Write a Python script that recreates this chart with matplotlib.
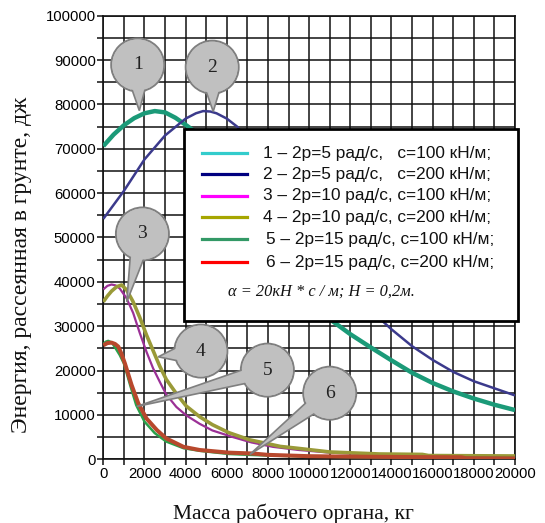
import math
import matplotlib
matplotlib.use("Agg")
import matplotlib.pyplot as plt
from matplotlib.patches import Circle, Polygon, Rectangle
from matplotlib.lines import Line2D
from matplotlib.transforms import IdentityTransform
from matplotlib.ticker import MultipleLocator, FuncFormatter

# ---------------- data (mass, kg ; energy, J) ----------------
x1 = [0, 500, 1000, 1500, 2000, 2500, 3000, 3500, 4000, 5000, 6000, 7000, 8000, 9000,
      10000, 11000, 12000, 13000, 14000, 15000, 16000, 17000, 18000, 19000, 20000]
y1 = [70600, 73200, 75300, 76900, 78000, 78500, 78200, 77000, 75400, 72000, 67500, 61000,
      53500, 45500, 37800, 31600, 28200, 25200, 22300, 19500, 17200, 15300, 13700, 12300, 11100]

x2 = [0, 1000, 2000, 3000, 4000, 4500, 4850, 5200, 5500, 6000, 6500, 7000, 8000, 9000, 10000,
      11000, 12000, 13000, 13600, 14000, 15000, 16000, 17000, 18000, 19000, 20000]
y2 = [54200, 60500, 67600, 73000, 76800, 78000, 78500, 78400, 78000, 76800, 75000, 72000,
      66500, 60000, 53000, 46000, 39500, 34000, 31000, 29300, 25500, 22400, 19700, 17600,
      16000, 14400]

x3 = [0, 200, 400, 600, 800, 1130, 1450, 1770, 2100, 2420, 2740, 3060, 3550, 4030, 4680,
      5300, 6300, 7200, 8250, 9500, 11000, 13000, 16000, 20000]
y3 = [38300, 39100, 39400, 39200, 38500, 36300, 33000, 28500, 24200, 20500, 17500, 14600,
      11800, 9900, 8000, 6500, 5000, 3800, 2800, 2100, 1500, 1100, 800, 600]

x4 = [0, 200, 400, 650, 890, 1130, 1450, 1770, 2100, 2420, 2740, 3060, 3550, 4030, 4680,
      5300, 6100, 7100, 8600, 9400, 11000, 13400, 15500, 15800, 20000]
y4 = [35500, 36800, 37900, 38900, 39300, 38200, 35500, 32000, 28000, 24500, 21000, 18000,
      14800, 12000, 9600, 7800, 6000, 4400, 2900, 2500, 1650, 1200, 1100, 850, 750]

x5 = [0, 120, 240, 420, 600, 800, 1000, 1300, 1600, 2000, 2500, 3060, 3900, 4700, 6100,
      7100, 8000, 10000, 12000, 15000, 20000]
y5 = [26000, 26500, 26700, 26300, 25000, 23500, 21600, 16800, 12200, 8500, 5900, 4000,
      2500, 1900, 1200, 1000, 850, 650, 500, 400, 300]

x6 = [0, 200, 400, 570, 730, 880, 1050, 1370, 1700, 2100, 2600, 3060, 3900, 4680, 6100,
      7280, 8000, 10000, 12000, 15000, 17400, 17600, 20000]
y6 = [25700, 26200, 26300, 26000, 25400, 23800, 21600, 16800, 12600, 9200, 6600, 4700,
      2800, 2100, 1500, 1300, 1000, 700, 600, 500, 450, 250, 200]

series_x = [x1, x2, x3, x4, x5, x6]
series_y = [y1, y2, y3, y4, y5, y6]
curve_colors = ['#1b9a78', '#3b3a8c', '#9b3096', '#9a9a38', '#2aa04a', '#b8482c']
curve_widths = [3.2, 1.8, 1.6, 2.6, 1.8, 2.9]

legend_colors = ['#33cccc', '#000080', '#ff00ff', '#a6a600', '#339966', '#ff0000']
legend_labels = [
    "1 – 2р=5 рад/с,   с=100 кН/м;",
    "2 – 2р=5 рад/с,   с=200 кН/м;",
    "3 – 2р=10 рад/с, с=100 кН/м;",
    "4 – 2р=10 рад/с, с=200 кН/м;",
    "5 – 2р=15 рад/с, с=100 кН/м;",
    "6 – 2р=15 рад/с, с=200 кН/м;",
]
formula = "α = 20кН * с / м; Н = 0,2м."

# callouts: label, circle centre (data), pointer tip (data)
callout_labels = ['1', '2', '3', '4', '5', '6']
callout_centers = [(1670, 88900), (5290, 88400), (1900, 50800), (4740, 24400),
                   (7970, 20100), (11000, 14900)]
callout_tips = [(1750, 78600), (5340, 78400), (1140, 35500), (2670, 23100),
                (1620, 11900), (7120, 1100)]

xlabel = "Масса рабочего органа, кг"
ylabel = "Энергия, рассеянная в грунте, дж"

# ---------------- figure ----------------
W, H = 545, 523
fig = plt.figure(figsize=(W / 100, H / 100), dpi=100)
fig.patch.set_facecolor('white')
ax = fig.add_axes([103.3 / W, 1 - 459.3 / H, (515 - 103.3) / W, (459.3 - 15.7) / H])

for xs, ys, c, lw in zip(series_x, series_y, curve_colors, curve_widths):
    ax.plot(xs, ys, color=c, lw=lw, zorder=3, solid_capstyle='butt',
            solid_joinstyle='round')

ax.set_xlim(0, 20000)
ax.set_ylim(0, 100000)
ax.xaxis.set_major_locator(MultipleLocator(2000))
ax.xaxis.set_minor_locator(MultipleLocator(1000))
ax.yaxis.set_major_locator(MultipleLocator(10000))
ax.yaxis.set_minor_locator(MultipleLocator(5000))
ax.xaxis.set_major_formatter(FuncFormatter(lambda v, p: f"{int(round(v))}"))
ax.yaxis.set_major_formatter(FuncFormatter(lambda v, p: f"{int(round(v))}"))
ax.grid(which='both', color='#111111', lw=1.1, zorder=1)
ax.set_axisbelow(True)
ax.tick_params(which='both', direction='out', length=4, width=1.1, color='#111111',
               labelsize=10.7, pad=1.5)
for lab in ax.get_xticklabels() + ax.get_yticklabels():
    lab.set_fontfamily('Liberation Sans')
for s in ax.spines.values():
    s.set_color('#111111')
    s.set_linewidth(1.2)

# ---------------- legend (figure coords from pixels) ----------------
def fx(px):
    return px / W

def fy(py):
    return 1 - py / H

fig.add_artist(Rectangle((fx(184), fy(321)), fx(518) - fx(184), fy(129) - fy(321),
                         transform=fig.transFigure, fc='white', ec='black', lw=2.0,
                         zorder=10))
row_y = [153.3, 174.3, 195.5, 217.3, 239.3, 262.3]
text_x = [263, 263, 263, 263, 266, 266]
for yy, tx, col, lab in zip(row_y, text_x, legend_colors, legend_labels):
    fig.add_artist(Line2D([fx(202), fx(247)], [fy(yy), fy(yy)], transform=fig.transFigure,
                          color=col, lw=2.3, zorder=11))
    fig.text(fx(tx), fy(yy), lab, ha='left', va='center', fontsize=12.4,
             family='Liberation Sans', color='#111111', zorder=11)
fig.text(fx(228), fy(292), formula, ha='left', va='center', fontsize=11.8,
         family='Liberation Serif', style='italic', color='#111111', zorder=11)

# ---------------- callouts ----------------
R = 26.5
for lab, cen, tip in zip(callout_labels, callout_centers, callout_tips):
    c = ax.transData.transform(cen)
    t = ax.transData.transform(tip)
    a = math.atan2(t[1] - c[1], t[0] - c[0])
    d = 0.30
    b1 = (c[0] + 0.9 * R * math.cos(a + d), c[1] + 0.9 * R * math.sin(a + d))
    b2 = (c[0] + 0.9 * R * math.cos(a - d), c[1] + 0.9 * R * math.sin(a - d))
    fig.add_artist(Circle(c, R, transform=IdentityTransform(), fc='#c0c0c0',
                          ec='#7f7f7f', lw=1.4, zorder=20))
    fig.add_artist(Polygon([b1, t, b2, (c[0], c[1])], closed=True,
                           transform=IdentityTransform(), fc='#c0c0c0', ec='#7f7f7f',
                           lw=1.2, zorder=21, joinstyle='miter'))
    fig.add_artist(Circle(c, R - 1.0, transform=IdentityTransform(), fc='#c0c0c0',
                          ec='none', zorder=22))
    fig.text(c[0], c[1], lab, transform=IdentityTransform(), ha='center', va='center',
             fontsize=14, family='Liberation Serif', color='#222222', zorder=23)

# ---------------- axis titles ----------------
fig.text(fx(21.7), fy(265), ylabel, rotation=90, ha='center', va='center', fontsize=17,
         family='Liberation Serif', color='#111111')
fig.text(fx(293.5), fy(513.3), xlabel, ha='center', va='center', fontsize=15.5,
         family='Liberation Serif', color='#111111')

fig.savefig('out.png', dpi=100)
